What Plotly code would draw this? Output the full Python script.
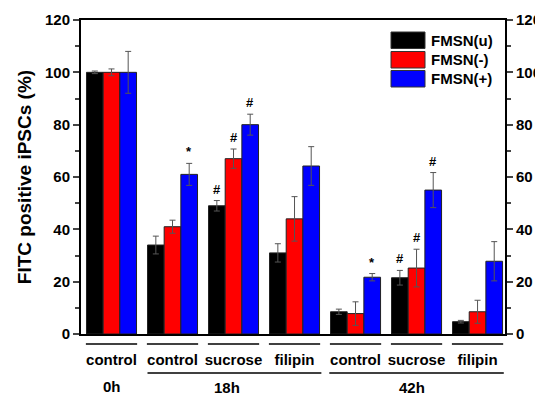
import plotly.graph_objects as go

# ---- data ----
group_labels = ["control", "control", "sucrose", "filipin", "control", "sucrose", "filipin"]
time_labels = ["0h", "18h", "42h"]
series_names = ["FMSN(u)", "FMSN(-)", "FMSN(+)"]
fmsn_u = [100, 34, 49, 31, 8.5, 21.5, 4.7]
fmsn_u_err = [0.5, 3.4, 2.0, 3.5, 1.0, 2.8, 0.5]
fmsn_minus = [100, 41, 67, 44, 7.8, 25.2, 8.5]
fmsn_minus_err = [1.3, 2.5, 3.7, 8.5, 4.5, 7.2, 4.4]
fmsn_plus = [100, 61, 80, 64.2, 21.7, 55, 27.8]
fmsn_plus_err = [8.0, 4.2, 4.0, 7.4, 1.4, 6.7, 7.5]
# significance marks: (group index, series index, symbol)
marks = [(1, 2, "*"), (2, 0, "#"), (2, 1, "#"), (2, 2, "#"),
         (4, 2, "*"), (5, 0, "#"), (5, 1, "#"), (5, 2, "#")]

values = [fmsn_u, fmsn_minus, fmsn_plus]
errors = [fmsn_u_err, fmsn_minus_err, fmsn_plus_err]
colors = ["#000000", "#ff0000", "#0000ff"]
xs = list(range(len(group_labels)))

FONT = "Liberation Sans, Arial, sans-serif"
OFF = 8  # page body margin
W, H = 543 - OFF, 397 - OFF
ML, MR, MT, MB = 81 - OFF, 38, 20 - OFF, 63
PW, PH = W - ML - MR, H - MT - MB

def px_x(px):
    return (px - OFF - ML) / PW

def px_y(py):
    return (H - MB - (py - OFF)) / PH

fig = go.Figure()
for name, vals, errs, col in zip(series_names, values, errors, colors):
    fig.add_trace(go.Bar(
        x=xs, y=vals, name=name,
        marker=dict(color=col, line=dict(color="#222222", width=1)),
        error_y=dict(type="data", array=errs, color="#555555", thickness=1, width=3),
        showlegend=False,
    ))
# dummy trace so the right-hand axis is drawn
fig.add_trace(go.Scatter(x=[None], y=[None], yaxis="y2", showlegend=False, hoverinfo="skip"))

bar_w = 0.27
for g, s, sym in marks:
    top = values[s][g] + errors[s][g]
    fig.add_annotation(x=g + (s - 1) * bar_w, y=top, xref="x", yref="y",
                       text=sym, showarrow=False, yanchor="bottom", yshift=2,
                       font=dict(family=FONT, size=13, color="black", weight="bold"))

shapes = []
# group underlines
for g in xs:
    shapes.append(dict(type="line", xref="x", yref="paper", x0=g - 0.42, x1=g + 0.42,
                       y0=px_y(344), y1=px_y(344), line=dict(color="black", width=1.5)))
# time-point underlines
for a, b in [(1 - 0.41, 3 + 0.44), (4 - 0.43, 6 + 0.43)]:
    shapes.append(dict(type="line", xref="x", yref="paper", x0=a, x1=b,
                       y0=px_y(373), y1=px_y(373), line=dict(color="black", width=1.5)))
# legend boxes
box_tops = [32, 51.5, 70.5]
for name, col, t in zip(series_names, colors, box_tops):
    shapes.append(dict(type="rect", xref="paper", yref="paper",
                       x0=px_x(391), x1=px_x(425), y0=px_y(t + 16.5), y1=px_y(t),
                       fillcolor=col, line=dict(color="#333333", width=1)))
    fig.add_annotation(xref="paper", yref="paper", x=px_x(429), y=px_y(t + 8.5),
                       text=name, showarrow=False, xanchor="left", yanchor="middle",
                       font=dict(family=FONT, size=15, color="black", weight="bold"))

for lbl, xc, py in zip(time_labels, [0.0, 1.9, 4.93], [386.5, 387, 387.5]):
    fig.add_annotation(xref="x", yref="paper", x=xc, y=px_y(py), text=lbl,
                       showarrow=False, xanchor="center", yanchor="middle",
                       font=dict(family=FONT, size=15, color="black", weight="bold"))

yax = dict(range=[0, 120], dtick=20, ticks="outside", ticklen=6, tickwidth=2,
           showline=True, linewidth=2, linecolor="black", showgrid=False, zeroline=False,
           automargin=False,
           tickfont=dict(family=FONT, size=15, color="black", weight="bold"),
           minor=dict(dtick=10, ticks="outside", ticklen=4, tickwidth=2, showgrid=False))

fig.update_layout(
    width=W, height=H,
    margin=dict(l=ML, r=MR, t=MT, b=MB, autoexpand=False),
    paper_bgcolor="white", plot_bgcolor="white",
    barmode="group", bargap=0.18, bargroupgap=0,
    shapes=shapes,
    xaxis=dict(range=[-0.5, 6.45], tickmode="array", tickvals=xs, ticktext=group_labels,
               ticks="", showline=True, mirror=True, linewidth=2, linecolor="black",
               showgrid=False, zeroline=False, ticklabelstandoff=11, automargin=False,
               tickfont=dict(family=FONT, size=15, color="black", weight="bold")),
    yaxis=dict(**yax, side="left",
               title=dict(text="FITC positive iPSCs (%)", standoff=8,
                          font=dict(family=FONT, size=19, color="black", weight="bold"))),
    yaxis2=dict(**yax, side="right", overlaying="y"),
)

fig.write_html("out.html")
